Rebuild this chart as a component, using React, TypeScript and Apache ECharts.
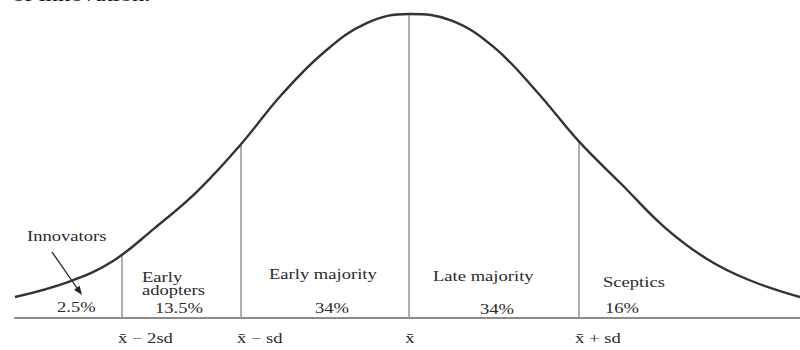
import React, { useEffect, useRef } from "react";
import * as echarts from "echarts";

// Bell curve: x in standard-deviation units (mean = 0), y in % of the peak height
const curveX = [-2.32, -2.0, -1.75, -1.5, -1.25, -1.0, -0.75, -0.5, -0.25, 0, 0.25, 0.5, 0.75, 1.0, 1.25, 1.5, 1.75, 2.0, 2.3];
const curveY = [6.9, 12.0, 18.5, 29.5, 41.5, 56.5, 73.5, 87.5, 97.0, 100, 97.8, 89.0, 74.5, 58.0, 44.0, 30.0, 19.5, 12.5, 6.9];

// Dividers between adopter groups (x in sd units) and the curve height they reach
const dividerX = [-1.69, -0.99, 0, 1.0];
const dividerTop = [21.0, 57.0, 100, 58.0];
const tickLabels = ["x\u0304 \u2212 2sd", "x\u0304 \u2212 sd", "x\u0304", "x\u0304 + sd"];

// Adopter groups and shares
const groupNames = ["Innovators", "Early\nadopters", "Early majority", "Late majority", "Sceptics"];
const groupShares = ["2.5%", "13.5%", "34%", "34%", "16%"];
const captionTail = "of innovation.";

// Layout (pixels) for the annotation texts
const nameLayout = [
  { x: 27, y: 236 },
  { x: 142, y: 278 },
  { x: 269, y: 274 },
  { x: 433, y: 276 },
  { x: 603, y: 282 },
];
const shareLayout = [
  { x: 57, y: 307 },
  { x: 155, y: 308 },
  { x: 315, y: 308 },
  { x: 480, y: 309 },
  { x: 605, y: 308 },
];

const FONT = '"Liberation Serif", "Times New Roman", serif';
const TEXT_COLOR = "#2a2a2a";
const FS = 15;
const SX = 1.24;

export default function App() {
  const ref = useRef<HTMLDivElement>(null);

  useEffect(() => {
    if (!ref.current) return;
    const chart = echarts.init(ref.current, undefined, { renderer: "svg" });

    const markData = dividerX.map((x, i) => [
      { coord: [x, 0] },
      { coord: [x, dividerTop[i]] },
    ]);

    chart.setOption({
      animation: false,
      backgroundColor: "#ffffff",
      grid: { left: 15, right: 0, top: 14, bottom: 32 },
      xAxis: {
        type: "value",
        min: -2.32,
        max: 2.3,
        axisLine: { show: true, lineStyle: { color: "#8c8c8c", width: 2 } },
        axisTick: { show: false },
        axisLabel: { show: false },
        splitLine: { show: false },
      },
      yAxis: {
        type: "value",
        min: 0,
        max: 100,
        show: false,
        splitLine: { show: false },
      },
      series: [
        {
          type: "line",
          data: curveX.map((x, i) => [x, curveY[i]]),
          smooth: 0.4,
          symbol: "none",
          clip: false,
          z: 5,
          lineStyle: { color: "#333333", width: 2.4 },
          markLine: {
            silent: true,
            symbol: "none",
            label: { show: false },
            lineStyle: { color: "#9a9a9a", width: 1.6, type: "solid" },
            data: markData,
          },
        },
      ],
    });

    const graphics: any[] = [];

    // axis labels below each divider
    dividerX.forEach((x, i) => {
      const p = chart.convertToPixel({ gridIndex: 0 }, [x, 0]) as number[];
      graphics.push({
        type: "text",
        x: p[0] - 4,
        y: p[1] + 20,
        scaleX: SX,
        style: {
          text: tickLabels[i],
          fontFamily: FONT,
          fontSize: FS,
          fill: TEXT_COLOR,
          align: "left",
          verticalAlign: "middle",
        },
      });
    });

    groupNames.forEach((name, i) => {
      const multi = name.includes("\n");
      graphics.push({
        type: "text",
        x: nameLayout[i].x,
        y: multi ? nameLayout[i].y - 7 : nameLayout[i].y,
        scaleX: SX,
        style: {
          text: name,
          fontFamily: FONT,
          fontSize: FS,
          lineHeight: 13,
          fill: TEXT_COLOR,
          align: "left",
          verticalAlign: multi ? "top" : "middle",
        },
      });
      graphics.push({
        type: "text",
        x: shareLayout[i].x,
        y: shareLayout[i].y,
        scaleX: SX,
        style: {
          text: groupShares[i],
          fontFamily: FONT,
          fontSize: FS,
          fill: TEXT_COLOR,
          align: "left",
          verticalAlign: "middle",
        },
      });
    });

    // arrow from "Innovators" to the tail area
    graphics.push({
      type: "line",
      shape: { x1: 52, y1: 252, x2: 77, y2: 288 },
      style: { stroke: "#222", lineWidth: 1.3 },
    });
    graphics.push({
      type: "polygon",
      shape: { points: [[82, 295], [74, 289.7], [79.6, 285.7]] },
      style: { fill: "#222" },
    });

    // caption of the source figure, cut by the top edge as in the reference
    graphics.push({
      type: "text",
      x: 12,
      y: -5.5,
      scaleX: 1.3,
      style: {
        text: captionTail,
        fontFamily: FONT,
        fontSize: 19,
        fill: "#111",
        align: "left",
        verticalAlign: "middle",
      },
    });

    chart.setOption({ graphic: graphics });

    return () => chart.dispose();
  }, []);

  return (
    <div
      ref={ref}
      style={{ position: "fixed", left: 0, top: 0, width: 800, height: 350, background: "#fff" }}
    />
  );
}
